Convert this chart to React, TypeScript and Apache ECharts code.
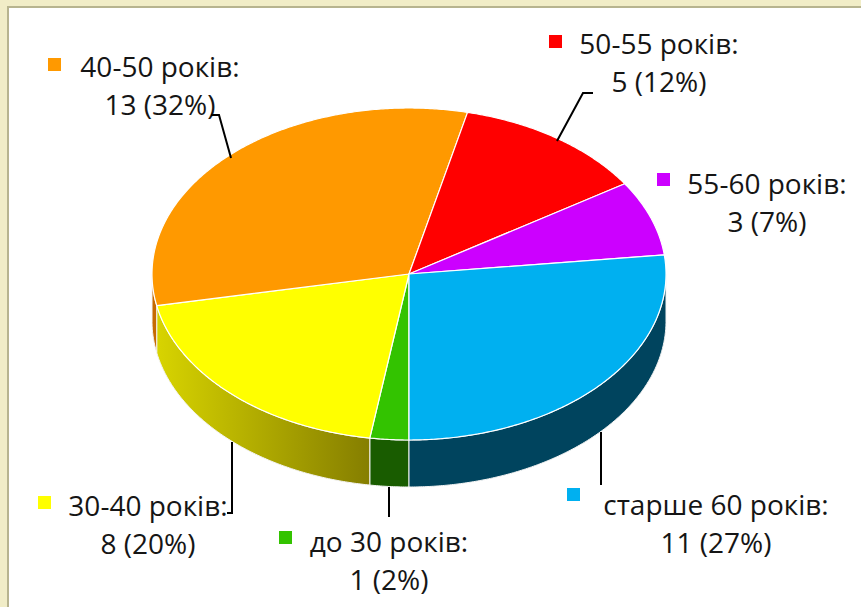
import React, { useEffect, useRef } from "react";
import * as echarts from "echarts";

// ---- data ----
const categories = ["до 30 років", "30-40 років", "40-50 років", "50-55 років", "55-60 років", "старше 60 років"];
const counts = [1, 8, 13, 5, 3, 11];

// ---- styles ----
const topColors = ["#33C300", "#FFFF00", "#FF9900", "#FF0000", "#CC00FF", "#00B0F0"];
const sideColors: any[] = [
  "#195C00",
  new echarts.graphic.LinearGradient(0, 0, 1, 0, [
    { offset: 0, color: "#D8D400" },
    { offset: 1, color: "#857E00" },
  ]),
  "#C66A00",
  "#B00000",
  "#8A00B0",
  "#00445E",
];

// label layout (block centre x, block centre y, marker x, marker y, leader polyline)
const labelLayout: { x: number; y: number; mx: number; my: number; line: number[][] | null }[] = [
  { x: 389, y: 560, mx: 279, my: 531, line: [[389, 487], [389, 517]] },
  { x: 148, y: 524, mx: 38, my: 496, line: [[232, 442], [232, 513], [227, 513]] },
  { x: 160, y: 85, mx: 48, my: 58, line: [[211, 115], [219, 115], [231, 158]] },
  { x: 659, y: 62, mx: 549, my: 35, line: [[593, 93], [583, 93], [557, 141]] },
  { x: 767, y: 202, mx: 657, my: 173, line: null },
  { x: 716, y: 523, mx: 567, my: 488, line: [[601, 432], [601, 485]] },
];

const CX = 409;
const CY = 274;
const RX = 257;
const RY = 166;
const DEPTH = 47;

const total = counts.reduce((a, b) => a + b, 0);
const starts: number[] = [];
const ends: number[] = [];
{
  let acc = 0;
  counts.forEach((v) => {
    starts.push((acc / total) * 360);
    acc += v;
    ends.push((acc / total) * 360);
  });
}

function pt(phi: number, dy: number): number[] {
  const r = (phi * Math.PI) / 180;
  return [CX - RX * Math.sin(r), CY + RY * Math.cos(r) + dy];
}
function arc(a: number, b: number, dy: number): number[][] {
  const n = Math.max(2, Math.ceil(Math.abs(b - a) / 0.5));
  const pts: number[][] = [];
  for (let i = 0; i <= n; i++) pts.push(pt(a + ((b - a) * i) / n, dy));
  return pts;
}

export default function App() {
  const ref = useRef<HTMLDivElement>(null);
  useEffect(() => {
    if (!ref.current) return;
    const chart = echarts.init(ref.current, null, { renderer: "svg" });
    const option: any = {
      animation: false,
      backgroundColor: "#ffffff",
      graphic: [
        { type: "rect", z: 0, silent: true, shape: { x: 0, y: 0, width: 861, height: 607 }, style: { fill: "#F1EDC7" } },
        { type: "rect", z: 0, silent: true, shape: { x: 7, y: 6, width: 854, height: 601 }, style: { fill: "#B7B48F" } },
        { type: "rect", z: 0, silent: true, shape: { x: 9, y: 8, width: 852, height: 599 }, style: { fill: "#FFFFFF" } },
      ],
      series: [
        {
          type: "custom",
          coordinateSystem: "none",
          z: 2,
          silent: true,
          data: counts,
          renderItem: (params: any) => {
            const i = params.dataIndex;
            const s = starts[i];
            const e = ends[i];
            const ranges: number[][] = [];
            const a1 = Math.max(s, 0), b1 = Math.min(e, 90);
            if (b1 > a1) ranges.push([a1, b1]);
            const a2 = Math.max(s, 270), b2 = Math.min(e, 360);
            if (b2 > a2) ranges.push([a2, b2]);
            return {
              type: "group",
              children: ranges.map(([a, b]) => ({
                type: "polygon",
                shape: { points: arc(a, b, 0).concat(arc(b, a, DEPTH)) },
                style: { fill: sideColors[i], stroke: "#F4F4F4", lineWidth: 1 },
              })),
            };
          },
        },
        {
          type: "custom",
          coordinateSystem: "none",
          z: 3,
          silent: true,
          data: counts,
          renderItem: (params: any) => {
            const i = params.dataIndex;
            return {
              type: "polygon",
              shape: { points: [[CX, CY]].concat(arc(starts[i], ends[i], 0)) },
              style: { fill: topColors[i], stroke: "#FFFFFF", lineWidth: 1.2, lineJoin: "round" },
            };
          },
        },
        {
          type: "custom",
          coordinateSystem: "none",
          z: 4,
          silent: true,
          data: counts,
          renderItem: (params: any, api: any) => {
            const i = params.dataIndex;
            const v = api.value(0);
            const pct = Math.round((v / total) * 100);
            const L = labelLayout[i];
            const children: any[] = [
              { type: "rect", shape: { x: L.mx, y: L.my, width: 13, height: 13 }, style: { fill: topColors[i] } },
              {
                type: "text",
                style: {
                  text: `${categories[i]}:\n${v} (${pct}%)`,
                  x: L.x,
                  y: L.y,
                  align: "center",
                  verticalAlign: "middle",
                  fontSize: 28,
                  fontFamily: "Open Sans",
                  lineHeight: 38,
                  fill: "#151515",
                },
              },
            ];
            if (L.line) {
              children.push({
                type: "polyline",
                shape: { points: L.line },
                style: { stroke: "#000000", lineWidth: 2, fill: null },
              });
            }
            return { type: "group", children };
          },
        },
      ],
    };
    chart.setOption(option);
    return () => chart.dispose();
  }, []);
  return (
    <div
      ref={ref}
      style={{ position: "fixed", left: 0, top: 0, width: 861, height: 607 }}
    />
  );
}
